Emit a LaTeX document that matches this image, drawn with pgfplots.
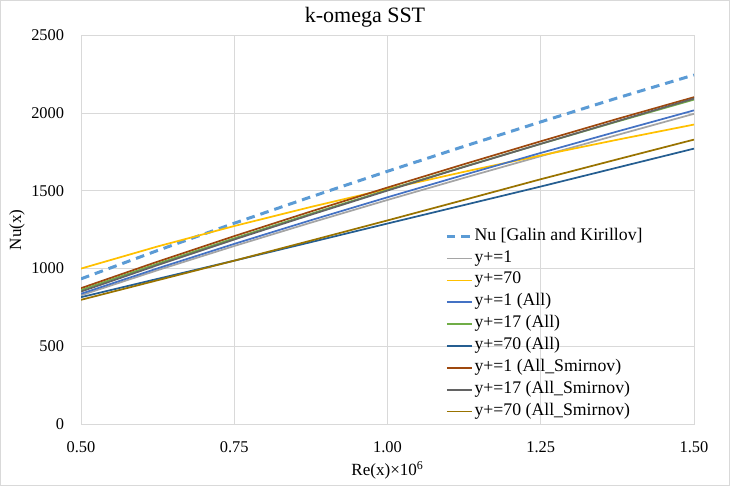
\documentclass[border=0pt]{standalone}
\usepackage{fontspec}
\setmainfont{Liberation Serif}
\usepackage{pgfplots}
\pgfplotsset{compat=1.18}
\definecolor{cnu}{HTML}{5B9BD5}
\definecolor{cgray}{HTML}{A5A5A5}
\definecolor{cyel}{HTML}{FFC000}
\definecolor{cblue}{HTML}{4472C4}
\definecolor{cgreen}{HTML}{70AD47}
\definecolor{cdblue}{HTML}{255E91}
\definecolor{cbrown}{HTML}{9E480E}
\definecolor{cdgray}{HTML}{636363}
\definecolor{cgold}{HTML}{997300}
\definecolor{gridc}{HTML}{D9D9D9}
\begin{document}
\begin{tikzpicture}
\useasboundingbox (-60.75pt,-46.5pt) rectangle (486.75pt,318pt);
\draw[gridc, line width=0.75pt] (-60.4pt,-46.1pt) rectangle (486.4pt,317.6pt);
\begin{axis}[
  at={(0pt,0pt)}, anchor=south west,
  scale only axis, width=459.75pt, height=291.4pt,
  xmin=0.5, xmax=1.5, ymin=0, ymax=2500,
  xtick={0.5,0.75,1,1.25,1.5},
  ytick={0,500,1000,1500,2000,2500},
  grid=major,
  major grid style={gridc, line width=0.75pt},
  axis line style={gridc, line width=0.75pt},
  major tick length=0pt,
  /pgf/number format/assume math mode=true,
  /pgf/number format/1000 sep={},
  xticklabel style={/pgf/number format/fixed, /pgf/number format/fixed zerofill, /pgf/number format/precision=2, anchor=base, yshift=-21pt, font=\fontsize{12.3pt}{14pt}\selectfont},
  yticklabel style={anchor=east, inner sep=0pt, xshift=-12.5pt, font=\fontsize{12.3pt}{14pt}\selectfont},
  title={k-omega SST},
  title style={at={(axis description cs:0.4633,1)}, anchor=base, yshift=3.5pt, font=\fontsize{16.5pt}{19pt}\selectfont},
  xlabel={Re(x)×10\textsuperscript{6}},
  xlabel style={at={(axis description cs:0.5,0)}, anchor=base, yshift=-38.5pt, font=\fontsize{12.8pt}{15pt}\selectfont},
  ylabel={Nu(x)},
  ylabel style={at={(axis description cs:-0.1044,0.5)}, anchor=center, font=\fontsize{12.8pt}{15pt}\selectfont},
  legend cell align=left,
  legend style={at={(axis description cs:0.5938,0.5110)}, anchor=north west, draw=none, fill=none, inner sep=0pt, row sep=0pt, column sep=1pt, font=\fontsize{13.3pt}{15pt}\selectfont, nodes={inner sep=0pt, text height=10.9pt, text depth=5.5pt}},
  legend image code/.code={\draw[#1] (0pt,0pt) -- (18.75pt,0pt);},
]
\addplot[cnu, line width=2.25pt, dash pattern=on 6.5pt off 4.5pt] coordinates {(0.5,934) (0.625,1116.5) (0.75,1291.9) (0.875,1461.4) (1.0,1626.2) (1.125,1786.8) (1.25,1944.0) (1.375,2098.0) (1.5,2246)};
\addlegendentry{Nu [Galin and Kirillov]}
\addplot[cgray, line width=1.3pt] coordinates {(0.5,828) (0.625,989.8) (0.75,1145.3) (0.875,1295.6) (1.0,1441.6) (1.125,1584.0) (1.25,1723.4) (1.375,1859.9) (1.5,1996)};
\addlegendentry{y+=1}
\addplot[cyel, line width=1.3pt] coordinates {(0.5,1000) (0.625,1142.5) (0.75,1273.9) (0.875,1396.7) (1.0,1512.6) (1.125,1622.8) (1.25,1728.2) (1.375,1829.3) (1.5,1926.8)};
\addlegendentry{y+=70}
\addplot[cblue, line width=1.3pt] coordinates {(0.5,838) (0.625,1001.7) (0.75,1159.1) (0.875,1311.2) (1.0,1459.0) (1.125,1603.2) (1.25,1744.2) (1.375,1882.4) (1.5,2018.1)};
\addlegendentry{y+=1 (All)}
\addplot[cgreen, line width=1.3pt] coordinates {(0.5,862) (0.625,1031.6) (0.75,1194.7) (0.875,1352.5) (1.0,1506.1) (1.125,1655.9) (1.25,1802.4) (1.375,1946.2) (1.5,2087.3)};
\addlegendentry{y+=17 (All)}
\addplot[cdblue, line width=1.3pt] coordinates {(0.5,816) (0.625,934) (0.75,1051) (0.875,1170) (1.0,1290) (1.125,1409) (1.25,1528) (1.375,1650) (1.5,1772)};
\addlegendentry{y+=70 (All)}
\addplot[cbrown, line width=1.3pt] coordinates {(0.5,874) (0.625,1044.8) (0.75,1208.9) (0.875,1367.5) (1.0,1521.7) (1.125,1672.0) (1.25,1819.1) (1.375,1963.3) (1.5,2103)};
\addlegendentry{y+=1 (All\_Smirnov)}
\addplot[cdgray, line width=1.3pt] coordinates {(0.5,852) (0.625,1022.5) (0.75,1187.1) (0.875,1346.6) (1.0,1502.1) (1.125,1653.9) (1.25,1802.8) (1.375,1949.0) (1.5,2094)};
\addlegendentry{y+=17 (All\_Smirnov)}
\addplot[cgold, line width=1.3pt] coordinates {(0.5,799) (0.625,925) (0.75,1051) (0.875,1180) (1.0,1310) (1.125,1442) (1.25,1575) (1.375,1703) (1.5,1830)};
\addlegendentry{y+=70 (All\_Smirnov)}
\end{axis}
\end{tikzpicture}
\end{document}
